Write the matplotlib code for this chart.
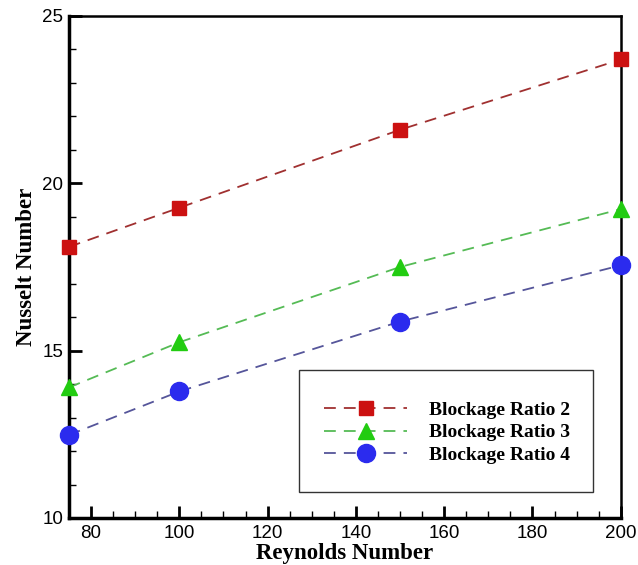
import matplotlib
matplotlib.use("Agg")
import matplotlib.pyplot as plt
from matplotlib.patches import Rectangle
from matplotlib.ticker import MultipleLocator

reynolds = [75, 100, 150, 200]
br2 = [18.1, 19.27, 21.6, 23.7]
br3 = [13.9, 15.25, 17.5, 19.23]
br4 = [12.48, 13.78, 15.87, 17.55]
labels = ["Blockage Ratio 2", "Blockage Ratio 3", "Blockage Ratio 4"]

plt.rcParams['lines.scale_dashes'] = False

fig = plt.figure(figsize=(6.38, 5.65), dpi=100)
ax = fig.add_axes([0.108, 0.0832, 0.865, 0.8885])

series = [
    (br2, 's', 10, '#CC1111', '#A03030'),
    (br3, '^', 11, '#22CC11', '#55BB55'),
    (br4, 'o', 13, '#2B2BEE', '#55559A'),
]
handles = []
for (vals, mk, ms, mc, lc), lab in zip(series, labels):
    h, = ax.plot(reynolds, vals, linestyle=(0, (8.5, 5.8)), color=lc, lw=1.3,
                 marker=mk, markersize=ms, markerfacecolor=mc, markeredgecolor=mc,
                 clip_on=False, label=lab, zorder=3)
    handles.append(h)

ax.set_xlim(75, 200)
ax.set_ylim(10, 25)
ax.xaxis.set_minor_locator(MultipleLocator(5))
ax.yaxis.set_major_locator(MultipleLocator(5))
ax.yaxis.set_minor_locator(MultipleLocator(1))
ax.set_xticks([80, 100, 120, 140, 160, 180, 200])
ax.tick_params(which='major', direction='in', length=9, width=2, labelsize=13.5,
               top=False, right=False)
ax.tick_params(which='minor', direction='in', length=5, width=1,
               top=False, right=False)
for lab in ax.get_xticklabels() + ax.get_yticklabels():
    lab.set_fontfamily('Liberation Sans')
ax.tick_params(axis='x', pad=5)
ax.tick_params(axis='y', pad=4)

for s in ['left', 'bottom']:
    ax.spines[s].set_linewidth(2.5)
for s in ['top', 'right']:
    ax.spines[s].set_linewidth(1.8)

ax.set_xlabel("Reynolds Number", fontfamily='Liberation Serif', fontweight='bold',
              fontsize=16.5, labelpad=1)
ax.set_ylabel("Nusselt Number", fontfamily='Liberation Serif', fontweight='bold',
              fontsize=16.5, labelpad=4)

# legend frame
ax.add_patch(Rectangle((0.417, 0.052), 0.532, 0.243, transform=ax.transAxes,
                       fill=True, facecolor='white', edgecolor='#333333', lw=1.0, zorder=4))
leg = ax.legend(handles=handles, loc='center left', bbox_to_anchor=(0.43, 0.17),
                frameon=False, handlelength=4.3, handletextpad=1.1,
                labelspacing=0.25, prop={'family': 'Liberation Serif', 'weight': 'bold', 'size': 14})
leg.set_zorder(5)

fig.savefig("out.png", dpi=100)
